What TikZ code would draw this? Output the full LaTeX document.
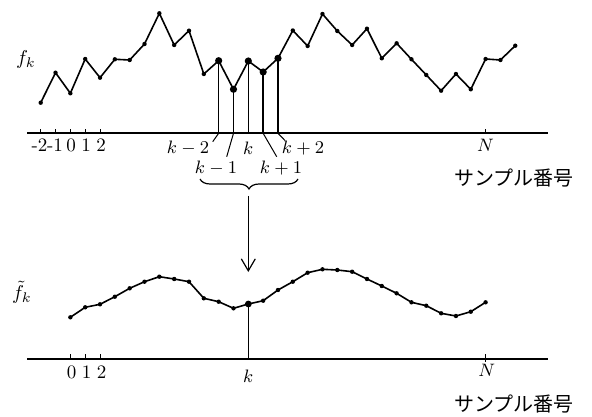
\documentclass[tikz,border=0pt]{standalone}
\usepackage{fontspec}
\newfontfamily\jp{Noto Sans CJK JP}
\usetikzlibrary{arrows.meta,decorations.pathreplacing}
\tikzset{
  curve/.style={line width=0.8pt, line join=round},
  axisline/.style={line width=0.9pt},
  stem/.style={line width=0.7pt},
  leader/.style={line width=0.5pt},
  tickmark/.style={line width=0.5pt},
  sdot/.style={fill=black},
  lbl/.style={inner sep=0pt, font=\fontsize{9.5}{11}\selectfont},
  jlabel/.style={inner sep=0pt, font=\jp\fontsize{10}{12}\selectfont},
}
\begin{document}
\begin{tikzpicture}[x=0.5pt,y=-0.5pt]
\useasboundingbox (0,0) rectangle (592,416);
% ---------- top graph ----------
\foreach \yy [count=\i from 0] in {102.7,72.7,93.3,59,77.7,59.3,60,44,13.3,45,30.7,74,60.7,89.3,61,72,58.3,30.5,46,14,31,45,28.7,58.3,43.3,59.3,75,90.7,74,89.3,59,60,45.7}
  {\coordinate (t\i) at ({40.7+14.83*\i},\yy);}
\foreach \i in {0,...,32} {\coordinate (ta\i) at ({40.7+14.83*\i},133.3);}
\coordinate (taL) at (27,133.3);
\coordinate (taR) at (548,133.3);
\draw[axisline] (taL) -- (taR);
\draw[curve] (t0) \foreach \i in {1,...,32} { -- (t\i) };
\foreach \i in {0,...,32} {\fill[sdot] (t\i) circle (1.1pt);}
\foreach \i in {12,...,16} {\fill[sdot] (t\i) circle (1.8pt);}
\foreach \i in {0,...,4,30} {\draw[tickmark] (ta\i) -- ++(0,-4);}
% stems
\foreach \i in {12,...,16} {\draw[stem] (t\i) -- (ta\i);}
% tick labels
\node[lbl] (lm2) at (39.5,145) {-2};
\node[lbl] (lm1) at (55,145) {-1};
\node[lbl] (l0) at (71,145) {0};
\node[lbl] (l1) at (86,145) {1};
\node[lbl] (l2) at (101,145) {2};
\node[lbl] (lN) at (485.6,145) {$N$};
% k labels and leaders
\node[lbl] (km2) at (188,148.5) {$k-2$};
\node[lbl] (km1) at (216,168) {$k-1$};
\node[lbl] (k0) at (248.3,148.5) {$k$};
\node[lbl] (kp1) at (281,168) {$k+1$};
\node[lbl] (kp2) at (303,148.5) {$k+2$};
\coordinate (e12) at (212.7,141.7);
\coordinate (e13) at (226.7,156.7);
\coordinate (e15) at (276.7,156.7);
\coordinate (e16) at (285,140.5);
\draw[leader] (ta12) -- (e12);
\draw[leader] (ta13) -- (e13);
\draw[leader] (ta15) -- (e15);
\draw[leader] (ta16) -- (e16);
\node[inner sep=0pt] (fk) at (26,60) {$f_k$};
\node[jlabel] (jt) at (514,178) {サンプル番号};
% brace and arrow
\coordinate (brL) at (200,179);
\coordinate (brR) at (298,179);
\draw[line width=0.6pt, decorate, decoration={brace, mirror, amplitude=5pt}] (brL) -- (brR);
\coordinate (arS) at (248.3,196);
\coordinate (arE) at (248.3,272);
\draw[line width=0.6pt, -{Straight Barb[length=6pt,width=7pt]}] (arS) -- (arE);
% ---------- bottom graph ----------
\foreach \yy [count=\i from 2] in {317.3,307.3,304.3,296.7,288.3,281.7,276.7,279,281.7,298.3,301.7,308.3,304,300.7,290,281.7,272.7,269.3,270,271.7,279,286,293.3,302.3,305.7,313.3,316,311.7,302.3}
  {\coordinate (b\i) at ({40.7+14.83*\i},\yy);}
\foreach \i in {2,...,30} {\coordinate (ba\i) at ({40.7+14.83*\i},359.3);}
\coordinate (baL) at (27,359.3);
\coordinate (baR) at (548,359.3);
\draw[axisline] (baL) -- (baR);
\draw[curve] (b2) \foreach \i in {3,...,30} { -- (b\i) };
\foreach \i in {2,...,30} {\fill[sdot] (b\i) circle (1.1pt);}
\fill[sdot] (b14) circle (1.7pt);
\draw[stem] (b14) -- (ba14);
\foreach \i in {2,3,4} {\draw[tickmark] (ba\i) -- ++(0,-5);}
\draw[tickmark] (ba30) ++(0,-5) -- ++(0,8);
\node[lbl] (m0) at (71.7,372) {0};
\node[lbl] (m1) at (86.7,372) {1};
\node[lbl] (m2) at (101.7,372) {2};
\node[lbl] (mk) at (248.3,376) {$k$};
\node[lbl] (mN) at (486.7,370) {$N$};
\node[inner sep=0pt] (fkt) at (22,292) {$\tilde{f}_k$};
\node[jlabel] (jb) at (514,404) {サンプル番号};
\end{tikzpicture}
\end{document}
